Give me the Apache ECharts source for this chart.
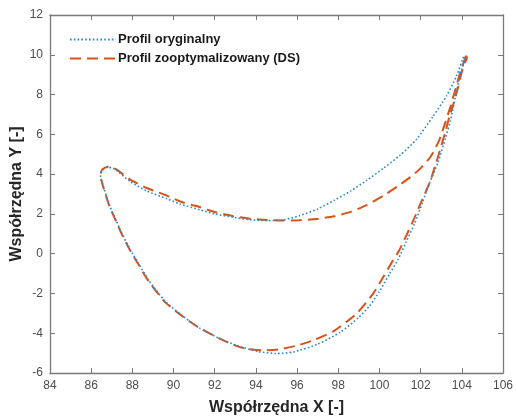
<!DOCTYPE html>
<html>
<head>
<meta charset="utf-8">
<script src="https://cdn.jsdelivr.net/npm/echarts@6/dist/echarts.min.js"></script>
<style>html,body{margin:0;padding:0;background:#fff}#c{width:516px;height:418px}</style>
</head>
<body>
<div id="c"></div>
<script>
// ---- data ----
const seriesNames = ['Profil oryginalny', 'Profil zooptymalizowany (DS)'];
const xAxisName = 'Współrzędna X [-]';
const yAxisName = 'Współrzędna Y [-]';
const xTicks = [84, 86, 88, 90, 92, 94, 96, 98, 100, 102, 104, 106];
const yTicks = [-6, -4, -2, 0, 2, 4, 6, 8, 10, 12];

// original profile: suction side (trailing edge -> leading edge)
const origUpper = [[104.08,9.9],[103.75,8.95],[103.27,7.95],[102.6,6.9],[101.8,5.75],[101.0,4.95],[100.2,4.3],[99.4,3.7],[98.6,3.15],[97.8,2.68],[97.0,2.25],[96.1,1.9],[95.3,1.69],[94.5,1.66],[93.6,1.72],[92.9,1.83],[92.0,2.0],[91.3,2.2],[90.3,2.5],[89.7,2.75],[88.7,3.15],[87.9,3.62],[87.1,4.28],[86.78,4.35],[86.55,4.2],[86.45,3.95]];
// original profile: pressure side (leading edge -> trailing edge)
const origLower = [[86.45,3.95],[86.6,3.35],[86.9,2.4],[87.2,1.7],[87.5,1.0],[87.9,0.2],[88.3,-0.5],[88.8,-1.35],[89.6,-2.4],[90.4,-3.1],[91.2,-3.7],[92.2,-4.25],[93.1,-4.62],[94.1,-4.92],[95.0,-5.02],[95.8,-4.95],[97.0,-4.55],[98.1,-3.95],[99.0,-3.2],[99.5,-2.65],[100.0,-1.9],[100.5,-1.0],[100.9,-0.3],[101.3,0.6],[101.7,1.5],[102.1,2.6],[102.45,3.6],[102.85,4.6],[103.2,5.8],[103.45,6.7],[103.75,8.2],[104.0,9.3],[104.15,9.75],[104.08,9.9]];
// optimized profile: suction side
const optUpper = [[104.2,9.95],[103.95,9.2],[103.7,8.3],[103.45,7.4],[103.2,6.6],[102.9,5.7],[102.5,4.9],[102.0,4.3],[101.5,3.85],[100.9,3.4],[100.2,2.92],[99.4,2.45],[98.6,2.1],[97.8,1.88],[96.9,1.74],[96.1,1.68],[95.3,1.67],[94.5,1.69],[93.7,1.76],[92.9,1.88],[92.1,2.07],[91.3,2.33],[90.4,2.6],[89.6,2.95],[88.7,3.3],[87.9,3.72],[87.2,4.25],[86.83,4.37],[86.55,4.25],[86.45,3.95]];
// optimized profile: pressure side
const optLower = [[86.45,3.95],[86.6,3.3],[86.9,2.35],[87.2,1.65],[87.5,0.95],[87.9,0.15],[88.3,-0.55],[88.8,-1.4],[89.6,-2.45],[90.4,-3.12],[91.2,-3.7],[92.2,-4.25],[92.9,-4.58],[93.5,-4.78],[94.3,-4.86],[95.2,-4.8],[96.0,-4.62],[96.8,-4.35],[97.8,-3.88],[98.9,-3.0],[99.7,-2.0],[100.2,-1.15],[100.65,-0.35],[100.95,0.15],[101.3,0.9],[101.7,1.8],[102.05,2.65],[102.45,3.6],[102.7,4.4],[102.94,5.2],[103.18,6.05],[103.4,6.9],[103.6,7.55],[103.83,8.4],[104.0,9.15],[104.15,9.6],[104.25,9.85],[104.2,9.95]];

const origProfile = origUpper.concat(origLower.slice(1));
const optProfile = optUpper.concat(optLower.slice(1));

const frameColor = '#7a7a7a';
const labelColor = '#4d4d4d';
const font = 'Liberation Sans, Arial, Helvetica, sans-serif';

const chart = echarts.init(document.getElementById('c'), null, {renderer: 'canvas'});
const baseAxis = {
  axisLine: {show: true, onZero: false, lineStyle: {color: frameColor, width: 1.3}},
  axisTick: {show: true, inside: true, length: 5, lineStyle: {color: frameColor, width: 1}},
  splitLine: {show: false}
};
chart.setOption({
  animation: false,
  backgroundColor: '#fff',
  grid: {left: 50, right: 13, top: 15, bottom: 45, containLabel: false, outerBoundsMode: 'none'},
  legend: {
    left: 64, top: 28, orient: 'vertical', itemGap: 6,
    itemWidth: 46, itemHeight: 12,
    itemStyle: {color: 'rgba(0,0,0,0)', borderColor: 'rgba(0,0,0,0)', borderWidth: 0, opacity: 0},
    textStyle: {fontFamily: font, fontWeight: 'bold', fontSize: 13, color: '#1a1a1a', padding: [0,0,0,-3]},
    data: seriesNames
  },
  xAxis: [
    Object.assign({}, baseAxis, {
      type: 'value', min: xTicks[0], max: xTicks[xTicks.length-1], interval: 2, position: 'bottom',
      name: xAxisName, nameLocation: 'middle', nameGap: 27, nameMoveOverlap: false,
      nameTextStyle: {fontFamily: font, fontWeight: 'bold', fontSize: 16, color: '#262626'},
      axisLabel: {fontFamily: font, fontSize: 12, color: labelColor, margin: 7}
    }),
    Object.assign({}, baseAxis, {
      type: 'value', min: xTicks[0], max: xTicks[xTicks.length-1], interval: 2, position: 'top',
      axisLabel: {show: false}
    })
  ],
  yAxis: [
    Object.assign({}, baseAxis, {
      type: 'value', min: yTicks[0], max: yTicks[yTicks.length-1], interval: 2, position: 'left',
      name: yAxisName, nameLocation: 'middle', nameGap: 25, nameRotate: 90, nameMoveOverlap: false,
      nameTextStyle: {fontFamily: font, fontWeight: 'bold', fontSize: 16, color: '#262626'},
      axisLabel: {fontFamily: font, fontSize: 12, color: labelColor, margin: 7}
    }),
    Object.assign({}, baseAxis, {
      type: 'value', min: yTicks[0], max: yTicks[yTicks.length-1], interval: 2, position: 'right',
      axisLabel: {show: false}
    })
  ],
  series: [
    {
      name: seriesNames[0], type: 'line', data: origProfile, symbol: 'none', showSymbol: false,
      smooth: 0.2,
      lineStyle: {color: '#2a8ad0', width: 1.6, type: [1.6, 2.2], cap: 'butt'},
      itemStyle: {color: '#2a8ad0'}, z: 3
    },
    {
      name: seriesNames[1], type: 'line', data: optProfile, symbol: 'none', showSymbol: false,
      smooth: 0.2,
      lineStyle: {color: '#D95319', width: 2, type: [11, 6]},
      itemStyle: {color: '#D95319'}, z: 2
    }
  ]
});
</script>
</body>
</html>
